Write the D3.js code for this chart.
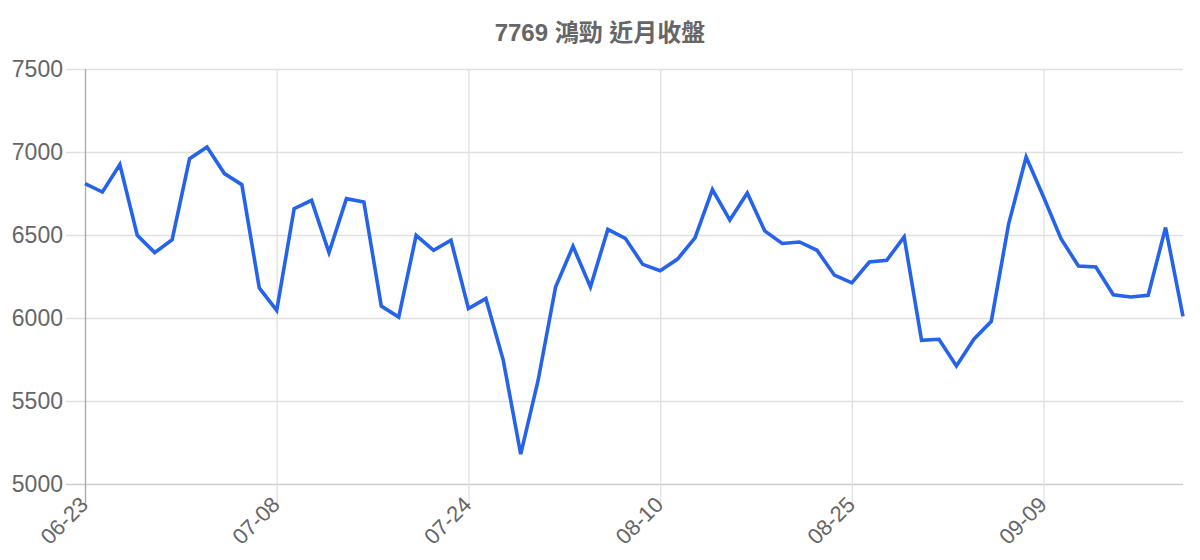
<!DOCTYPE html>
<html lang="zh-Hant">
<head>
	<meta charset="UTF-8">
	<title>7769 鴻勁 近月收盤</title>
	<script src="https://d3js.org/d3.v7.min.js"></script>
	<style>
		html, body { margin: 0; padding: 0; background: #fff; }
		svg { display: block; }
		text { font-family: "Liberation Sans", Arial, "Noto Sans CJK TC", sans-serif; fill: #666; }
	</style>
</head>
<body>

<script>
	// ----data----
	var title = '7769 鴻勁 近月收盤';

	var dates = [
		'06-23', '06-24', '06-25', '06-26', '06-27', '06-30', '07-01', '07-02', '07-03', '07-04', '07-07',
		'07-08', '07-09', '07-10', '07-11', '07-14', '07-15', '07-16', '07-17', '07-18', '07-21', '07-22',
		'07-24', '07-25', '07-28', '07-29', '07-30', '07-31', '08-01', '08-04', '08-05', '08-06', '08-08',
		'08-10', '08-11', '08-12', '08-13', '08-14', '08-15', '08-18', '08-19', '08-20', '08-21', '08-22',
		'08-25', '08-26', '08-27', '08-28', '08-29', '09-01', '09-02', '09-03', '09-04', '09-05', '09-08',
		'09-09', '09-10', '09-11', '09-12', '09-15', '09-16', '09-17', '09-18', '09-19'
	];

	var closes = [
		6810, 6759, 6924, 6498, 6394, 6472, 6960, 7030, 6870, 6803, 6181,
		6046, 6659, 6709, 6394, 6719, 6699, 6072, 6006, 6498, 6408, 6468,
		6057, 6117, 5745, 5180, 5625, 6187, 6432, 6187, 6534, 6480, 6323,
		6285, 6355, 6483, 6774, 6590, 6753, 6525, 6449, 6458, 6408, 6258,
		6212, 6337, 6348, 6488, 5866, 5872, 5711, 5872, 5980, 6569, 6970,
		6729, 6478, 6313, 6307, 6140, 6127, 6137, 6545, 6010
	];

	var yTicks = [5000, 5500, 6000, 6500, 7000, 7500];
	var tickEvery = 11;

	window.onload = function () {

		var W = 1200, H = 560;
		var margin = {top: 69, bottom: 76, left: 85, right: 17};
		var width = W - margin.left - margin.right,
			height = H - margin.top - margin.bottom;

		var svg = d3.select('body').append('svg')
			.attr('width', W)
			.attr('height', H);

		svg.append('text')
			.attr('x', W / 2)
			.attr('y', 35)
			.attr('text-anchor', 'middle')
			.attr('dominant-baseline', 'middle')
			.style('font-size', '24px')
			.style('font-weight', 'bold')
			.text(title);

		var g = svg.append('g')
			.attr('transform', 'translate(' + margin.left + ',' + margin.top + ')');

		//----scales----
		var x = d3.scalePoint()
			.domain(dates)
			.range([0, width]);
		var y = d3.scaleLinear()
			.domain([5000, 7500])
			.range([height, 0]);

		var shown = dates.filter(function (d, i) { return i % tickEvery === 0; });

		//----grid----
		var yAxis = g.append('g')
			.attr('class', 'axis axis--y')
			.call(d3.axisLeft(y).tickValues(yTicks).tickSize(-width - 19).tickPadding(3).tickFormat(d3.format('d')))
			.attr('transform', 'translate(-19,0)');
		yAxis.select('.domain').remove();
		yAxis.selectAll('.tick line').attr('stroke', '#e0e0e0').attr('stroke-width', 1.3);
		yAxis.selectAll('.tick text').style('font-size', '23px').attr('fill', '#666');
		yAxis.selectAll('.tick').filter(function (d) { return d === 5000; })
			.select('line').attr('stroke', '#cdcdcd');

		var xAxis = g.append('g')
			.attr('class', 'axis axis--x')
			.attr('transform', 'translate(0,' + height + ')')
			.call(d3.axisBottom(x).tickValues(shown).tickSize(-height).tickSizeOuter(0));
		xAxis.select('.domain').remove();
		xAxis.selectAll('.tick line')
			.attr('y1', 19)
			.attr('stroke', '#e0e0e0').attr('stroke-width', 1.3);
		xAxis.selectAll('.tick').filter(function (d, i) { return i === 0; })
			.select('line').attr('stroke', '#a8a8a8');
		xAxis.selectAll('.tick text')
			.attr('y', 0).attr('dy', 0)
			.attr('text-anchor', 'end')
			.attr('transform', 'translate(4,22) rotate(-45)')
			.style('font-size', '22px')
			.attr('fill', '#666');

		//----line----
		var line = d3.line()
			.x(function (d, i) { return x(dates[i]); })
			.y(function (d) { return y(d); });

		g.append('path')
			.datum(closes)
			.attr('fill', 'none')
			.attr('stroke', '#2563eb')
			.attr('stroke-width', 3.6)
			.attr('stroke-linejoin', 'miter')
			.attr('d', line);
	};
</script>
</body>
</html>
